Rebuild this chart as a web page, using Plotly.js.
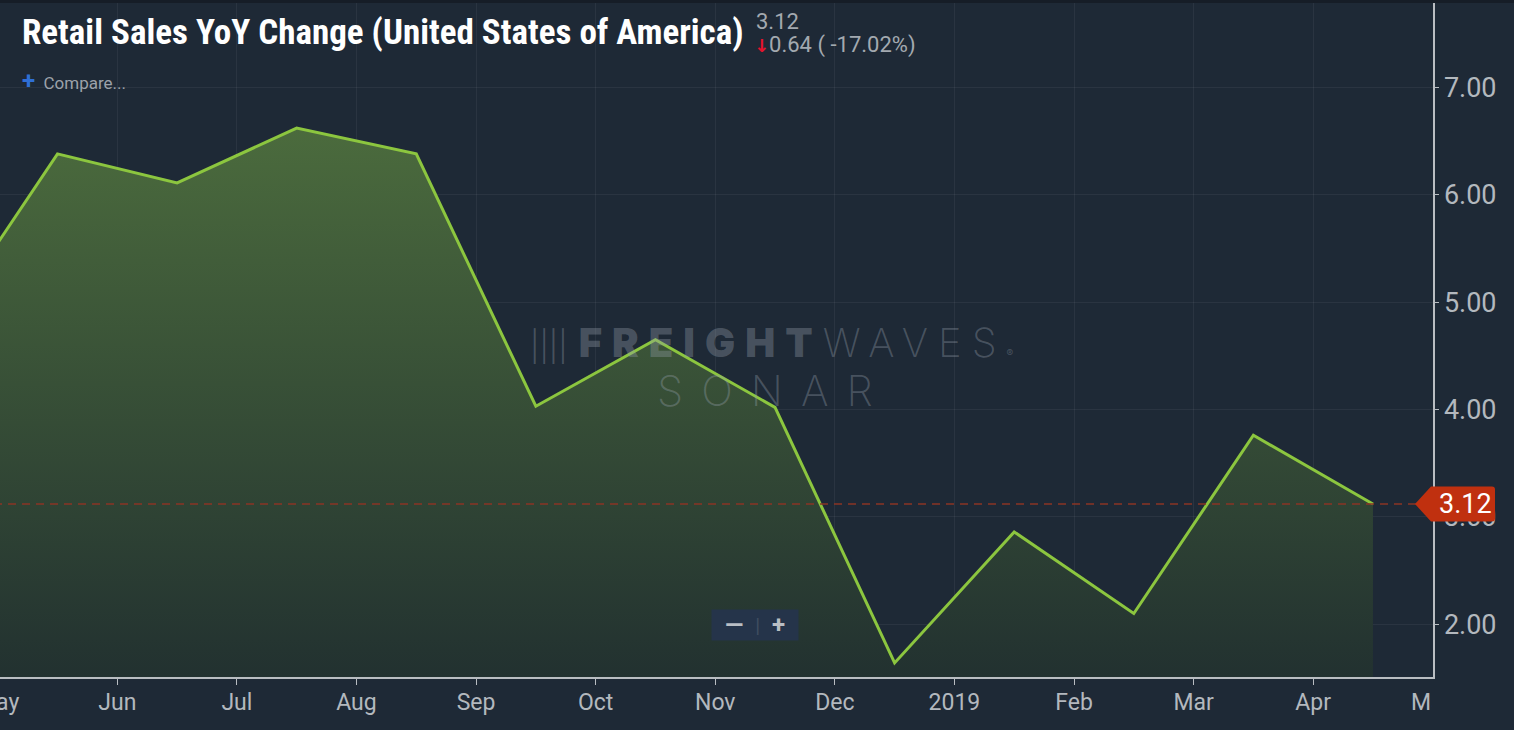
<!DOCTYPE html>
<html><head><meta charset="utf-8">
<script src="https://cdn.plot.ly/plotly-3.0.1.min.js"></script>
<style>
html,body{margin:0;padding:0;background:#1e2936;overflow:hidden;width:1514px;height:730px}
#chart{position:absolute;left:-20px;top:0;width:1534px;height:730px}
</style>
</head><body><div id="chart"></div>
<script>
// Monthly data (Apr 2018 .. Apr 2019)
const months = ['2018-04','2018-05','2018-06','2018-07','2018-08','2018-09','2018-10','2018-11','2018-12','2019-01','2019-02','2019-03','2019-04'];
const values = [4.72, 6.38, 6.11, 6.62, 6.38, 4.03, 4.65, 4.02, 1.64, 2.86, 2.10, 3.76, 3.12];
const tickLabels = ['May','Jun','Jul','Aug','Sep','Oct','Nov','Dec','2019','Feb','Mar','Apr','May'];
const yTicks = [2, 3, 4, 5, 6, 7];

const titleText = 'Retail Sales YoY Change (United States of America)';

// month axis: tick k = first of month (May 2018 = 0); each point sits mid-month
const xs = months.map((m, i) => i - 0.5);
const tickVals = tickLabels.map((t, i) => i);

const last = values[values.length - 1];
const prev = values[values.length - 2];
const diff = last - prev;
const pct = diff / prev * 100;

const W = 1534, H = 730, ML = 0, MR = 81, MT = 3, MB = 53;
const PW = W - ML - MR, PH = H - MT - MB;
const SHIFT = 20; // div is shifted left by this many px
const px = p => (p + SHIFT - ML) / PW;
const py = p => (H - MB - p) / PH;

const bg = '#1e2936';
const grid = 'rgba(255,255,255,0.055)';
const axisCol = '#b9bdc2';
const tickFontCol = '#b3b8be';

const trace = {
  type: 'scatter', mode: 'lines',
  x: xs, y: values,
  line: {color: '#8cc63f', width: 3},
  fill: 'tozeroy',
  fillgradient: {type: 'vertical', start: 1.5, stop: Math.max(...values),
    colorscale: [[0, '#223130'], [1, '#4b6b3d']]},
  hoverinfo: 'skip'
};

const layout = {
  width: W, height: H,
  paper_bgcolor: bg, plot_bgcolor: bg,
  margin: {l: ML, r: MR, t: MT, b: MB},
  showlegend: false,
  title: {
    text: titleText,
    font: {family: '"Roboto Condensed", Roboto, sans-serif', size: 35, color: '#ffffff', weight: 700},
    xref: 'container', x: (22 + SHIFT) / W, xanchor: 'left',
    yref: 'container', y: 1 - 32 / H, yanchor: 'middle'
  },
  xaxis: {
    range: [-0.148, 12.002],
    tickmode: 'array', tickvals: tickVals, ticktext: tickLabels,
    ticklabeloverflow: 'allow',
    showgrid: true, gridcolor: grid, gridwidth: 1, zeroline: false,
    showline: true, linecolor: axisCol, linewidth: 2,
    ticks: 'outside', ticklen: 6, tickwidth: 1, tickcolor: axisCol,
    ticklabelstandoff: -3,
    tickfont: {family: 'Roboto, sans-serif', size: 23, color: tickFontCol},
    fixedrange: true
  },
  yaxis: {
    side: 'right',
    range: [1.509, 7.785],
    tickmode: 'array', tickvals: yTicks, tickformat: '.2f',
    showgrid: true, gridcolor: grid, gridwidth: 1, zeroline: false,
    showline: true, linecolor: axisCol, linewidth: 1.5,
    ticks: 'outside', ticklen: 4, tickwidth: 1, tickcolor: axisCol,
    tickfont: {family: 'Roboto, sans-serif', size: 27, color: tickFontCol},
    fixedrange: true
  },
  shapes: [
    // dark strip at top
    {type: 'rect', layer: 'above', xref: 'paper', x0: -0.1, x1: 1.2,
     yref: 'paper', ysizemode: 'pixel', yanchor: 1, y0: 0, y1: 4,
     fillcolor: '#161d27', line: {width: 0}},
    // last value dashed line
    {type: 'line', layer: 'above', xref: 'paper', x0: 0, x1: 1, yref: 'y', y0: last, y1: last,
     line: {color: '#8a3424', width: 1.5, dash: '8px,6px'}},
    // clip last x label at plot edge
    {type: 'rect', layer: 'above', xref: 'paper', xsizemode: 'pixel', xanchor: 1, x0: -1, x1: 120,
     yref: 'paper', ysizemode: 'pixel', yanchor: 0, y0: -2, y1: -60,
     fillcolor: bg, line: {width: 0}},
    // last value tag
    {type: 'path', layer: 'above', xref: 'paper', xsizemode: 'pixel', xanchor: 1,
     yref: 'y', ysizemode: 'pixel', yanchor: last,
     path: 'M -18 0 L -2 17.5 L 59 17.5 Q 62 17.5 62 14.5 L 62 -14.5 Q 62 -17.5 59 -17.5 L -2 -17.5 Z',
     fillcolor: '#c0300f', line: {width: 0}}
  ],
  annotations: [
    {xref: 'paper', yref: 'paper', x: px(754), y: py(21.5), xanchor: 'left', yanchor: 'middle',
     showarrow: false, text: last.toFixed(2),
     font: {family: 'Roboto, sans-serif', size: 22, color: '#a3a9b0'}},
    {xref: 'paper', yref: 'paper', x: px(752), y: py(45.5), xanchor: 'left', yanchor: 'middle',
     showarrow: false,
     text: '<span style="color:#e3132d;font-size:18px;font-family:\'DejaVu Sans\';font-weight:bold">' + (diff < 0 ? '↓' : '↑') + '</span>' +
           Math.abs(diff).toFixed(2) + ' ( ' + pct.toFixed(2) + '%)',
     font: {family: 'Roboto, sans-serif', size: 22, color: '#a3a9b0'}},
    {xref: 'paper', yref: 'paper', x: px(20), y: py(81), xanchor: 'left', yanchor: 'middle',
     showarrow: false,
     text: '<span style="color:#2f6fd6;font-size:24px"><b>+</b></span>  Compare...',
     font: {family: 'Roboto, sans-serif', size: 17, color: '#9ca2aa'}},
    // watermark
    {xref: 'paper', yref: 'paper', x: px(772), y: py(342), xanchor: 'center', yanchor: 'middle',
     showarrow: false,
     text: '<span style="font-weight:300;font-size:30px;letter-spacing:0px">||||</span> ' +
           '<span style="font-weight:900;letter-spacing:10px">FREIGHT</span>' +
           '<span style="font-weight:200;letter-spacing:10px">WAVES</span>' +
           '<span style="font-size:10px">®</span>',
     font: {family: 'Inter, Lato, sans-serif', size: 40, color: 'rgba(150,160,172,0.36)'}},
    {xref: 'paper', yref: 'paper', x: px(774), y: py(390), xanchor: 'center', yanchor: 'middle',
     showarrow: false,
     text: '<span style="font-weight:200;letter-spacing:18px">SONAR</span>',
     font: {family: 'Inter, Lato, sans-serif', size: 42, color: 'rgba(150,160,172,0.36)'}},
    // last value tag text
    {xref: 'paper', yref: 'y', x: 1, xshift: 32, y: last, xanchor: 'center', yanchor: 'middle',
     showarrow: false, text: last.toFixed(2),
     font: {family: 'Roboto, sans-serif', size: 27, color: '#ffffff'}},
    // zoom control
    {xref: 'paper', yref: 'paper', x: px(755), y: py(625), xanchor: 'center', yanchor: 'middle',
     showarrow: false, width: 86, height: 30, bgcolor: '#25344a', borderpad: 0,
     text: '<b>—</b>  <span style="color:#3f4e60;font-size:20px">|</span>  <b>+</b>',
     font: {family: 'Roboto, sans-serif', size: 24, color: '#b9bec4'}}
  ]
};

Plotly.newPlot('chart', [trace], layout, {displayModeBar: false, staticPlot: true});
</script>
</body></html>
